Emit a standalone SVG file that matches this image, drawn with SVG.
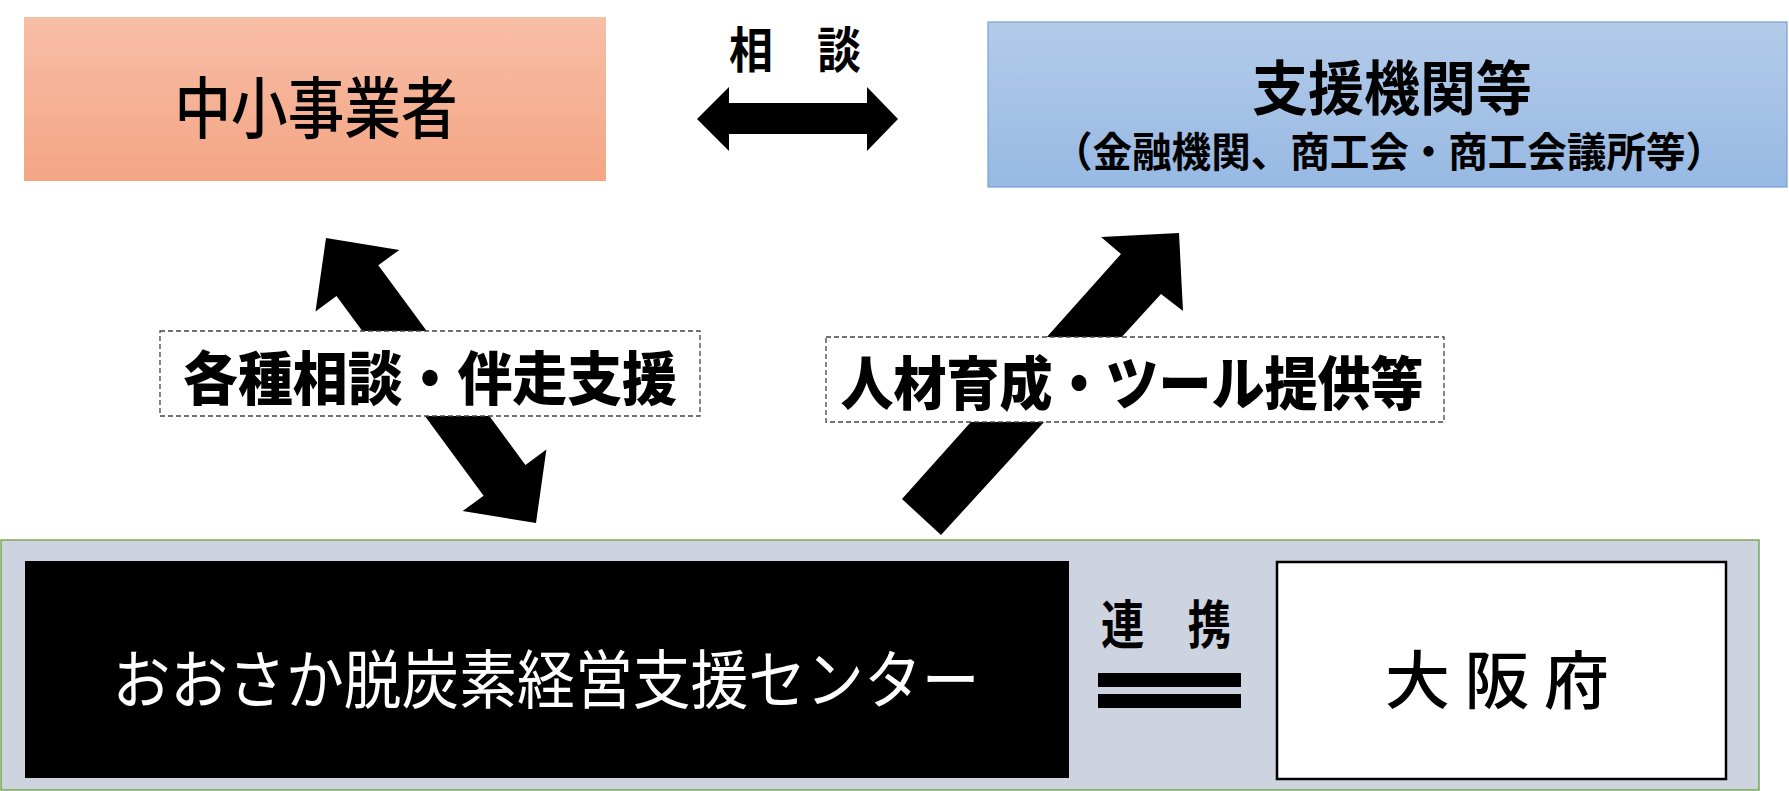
<svg xmlns="http://www.w3.org/2000/svg" width="1789" height="791" viewBox="0 0 1789 791">
<defs>
<linearGradient id="gOrange" x1="0" y1="0" x2="0" y2="1">
<stop offset="0" stop-color="#f7bea6"/>
<stop offset="1" stop-color="#f4a584"/>
</linearGradient>
<linearGradient id="gBlue" x1="0" y1="0" x2="0" y2="1">
<stop offset="0" stop-color="#b4cbe9"/>
<stop offset="1" stop-color="#97b9e3"/>
</linearGradient>
<style>
text{font-family:"Noto Sans CJK JP","Noto Sans CJK SC",sans-serif;text-anchor:middle;dominant-baseline:central;fill:#000;}
.b{font-weight:700;}
.h{font-weight:900;}
.m{font-weight:500;}
.r{font-weight:400;}
.w{fill:#fff;}
.lbl{fill:#fff;stroke:#444;stroke-width:1.3;stroke-dasharray:5 3;}
.arrow{fill:#000;}
</style>
</defs>
<rect width="1789" height="791" fill="#fff"/>

<g id="container">
<rect x="1" y="540" width="1758" height="250" fill="#cdd3df" stroke="#77a957" stroke-width="1.5"/>
</g>

<g id="connectors">
<polygon class="arrow" points="697,119 729,87 729,103 867,103 867,87 898,119 867,151 867,134 729,134 729,151"/>
<polygon class="arrow" points="326,238 399.3,249.9 378.3,265.3 525.4,464.9 546.4,449.5 536,523 462.6,511.1 483.6,495.7 336.5,296.1 315.5,311.5"/>
<polygon class="arrow" points="902,499 1121,254 1101,237 1179,233 1183,311 1161,294 941,535"/>
<rect x="1098" y="673" width="143" height="14" fill="#000"/>
<rect x="1098" y="694" width="143" height="14" fill="#000"/>
</g>

<g id="node-smes">
<rect x="24" y="17" width="582" height="164" fill="url(#gOrange)"/>
<text class="m" transform="translate(316,103) scale(1,1.12)" x="0" y="0" font-size="60" textLength="283" lengthAdjust="spacingAndGlyphs">中小事業者</text>
</g>

<g id="label-consult">
<text class="b" transform="translate(795,47) scale(1,1.08)" x="0" y="0" font-size="45" textLength="132" lengthAdjust="spacingAndGlyphs">相　談</text>
</g>

<g id="node-support">
<rect x="988" y="22" width="799" height="165" fill="url(#gBlue)" stroke="#74a2d8" stroke-width="1.2"/>
<text class="b" transform="translate(1392,84) scale(1,1.08)" x="0" y="0" font-size="55" textLength="280" lengthAdjust="spacingAndGlyphs">支援機関等</text>
<text class="b" transform="translate(1389,149) scale(1,1.06)" x="0" y="0" font-size="39" textLength="672" lengthAdjust="spacingAndGlyphs">（金融機関、商工会・商工会議所等）</text>
</g>

<g id="label-left">
<rect class="lbl" x="160" y="331" width="540" height="85"/>
<text class="h" x="430" y="375" font-size="58" textLength="494" lengthAdjust="spacingAndGlyphs">各種相談・伴走支援</text>
</g>

<g id="label-right">
<rect class="lbl" x="826" y="337" width="618" height="85"/>
<text class="h" x="1132" y="380" font-size="58" textLength="583" lengthAdjust="spacingAndGlyphs">人材育成・ツール提供等</text>
</g>

<g id="node-center">
<rect x="25" y="561" width="1044" height="217" fill="#000"/>
<text class="r w" transform="translate(546,675) scale(1,1.1)" x="0" y="0" font-size="58" textLength="867" lengthAdjust="spacingAndGlyphs">おおさか脱炭素経営支援センター</text>
</g>

<g id="label-renkei">
<text class="b" transform="translate(1166,621) scale(1,1.08)" x="0" y="0" font-size="48" textLength="130" lengthAdjust="spacingAndGlyphs">連　携</text>
</g>

<g id="node-osaka">
<rect x="1277" y="562" width="449" height="217" fill="#fff" stroke="#000" stroke-width="2.5"/>
<text class="m" transform="translate(1497,676) scale(1,1.08)" x="0" y="0" font-size="58" textLength="224" lengthAdjust="spacingAndGlyphs">大 阪 府</text>
</g>
</svg>
